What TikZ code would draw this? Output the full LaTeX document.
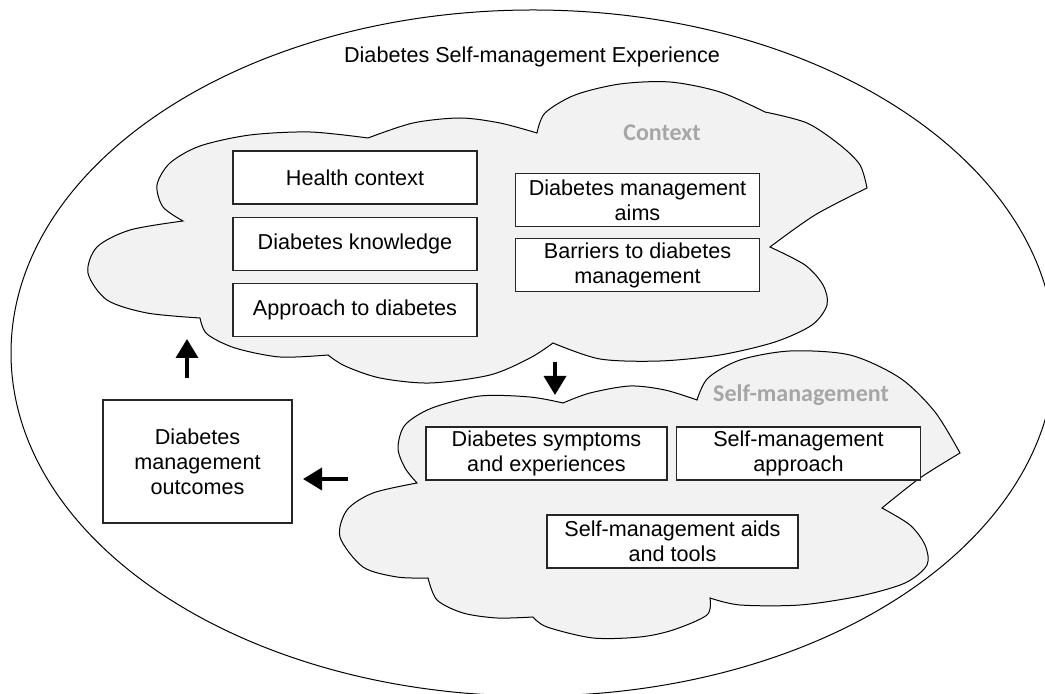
\documentclass[tikz,border=0pt]{standalone}
\usepackage{fontspec}
\setmainfont{Liberation Sans}
\newfontfamily\headfont{Carlito}
\usepackage{tikz}
\usetikzlibrary{positioning}
\usetikzlibrary{arrows.meta}
\definecolor{cloudgray}{HTML}{F2F2F2}
\definecolor{headgray}{HTML}{A6A6A6}
\tikzset{>={Triangle[width=11pt,length=9.5pt]}}

\begin{document}
\begin{tikzpicture}[x=0.5pt, y=-0.5pt,
        box/.style={rectangle, draw=black!85, line width=0.6pt, fill=white, align=center,
                    minimum width=122pt, minimum height=26.5pt, inner sep=1pt,
                    font=\fontsize{10.8}{12.6}\selectfont},
        cloudy/.style={draw=black, line width=0.5pt, fill=cloudgray},
        head/.style={text=headgray, font=\headfont\bfseries\fontsize{12}{14}\selectfont},
        fat/.style={->, line width=1.8pt}]
    \useasboundingbox (0,0) rectangle (1045,694);
    % outer experience ellipse
    \draw[line width=0.5pt] (533,353) ellipse [x radius=261pt, y radius=171.5pt];
    \node[font=\fontsize{10.8}{12.6}\selectfont] (title) at (532,57) {Diabetes Self-management Experience};

    % context cloud
    \draw[cloudy] plot[smooth] coordinates {(183,221) (163,207) (157,185) (170,163) (200,146) (250,135) (310,132) (368,138)}
        -- plot[smooth] coordinates {(368,138) (413,123) (460,118) (500,123) (537,133)}
        -- plot[smooth] coordinates {(537,133) (545,113) (575,95) (620,84) (670,82) (720,92) (765,112)}
        -- plot[smooth] coordinates {(765,112) (807,123) (840,145) (860,165) (867,188)}
        -- plot[smooth] coordinates {(867,188) (815,215) (770,247)}
        -- plot[smooth] coordinates {(770,247) (805,265) (823,285) (827,305) (812,325) (775,342) (720,355) (660,361) (600,359) (553,343)}
        -- plot[smooth] coordinates {(553,343) (530,358) (490,375) (430,383) (380,378) (345,366) (328,355)}
        -- plot[smooth] coordinates {(328,355) (280,357) (235,348) (207,334) (200,318)}
        -- plot[smooth] coordinates {(200,318) (147,313) (107,300) (88,273) (97,247) (130,230) (183,221)}
        -- cycle;
    \node[head] (ctx) at (662,133) {Context};

    % self-management cloud
    \draw[cloudy] plot[smooth] coordinates {(563,403) (590,393) (630,386) (665,390) (697,400)}
        -- plot[smooth] coordinates {(697,400) (708,378) (740,360) (790,351) (850,355) (900,378) (935,412) (960,453)}
        -- plot[smooth] coordinates {(960,453) (920,478) (882,508)}
        -- plot[smooth] coordinates {(882,508) (910,525) (925,545) (927,565) (905,583) (860,596) (800,605) (740,605) (710,598)}
        -- plot[smooth] coordinates {(710,598) (707,615) (673,630) (640,637) (593,638) (547,627) (533,617)}
        -- plot[smooth] coordinates {(533,617) (497,618) (463,613) (437,600) (428,578)}
        -- plot[smooth] coordinates {(428,578) (397,577) (363,567) (340,537) (347,510) (373,493) (417,483)}
        -- plot[smooth] coordinates {(417,483) (405,468) (398,448) (405,425) (432,408) (480,396) (530,397) (563,403)}
        -- cycle;
    \node[head] (self) at (801,395) {Self-management};

    % boxes
    \node[box] (health) at (355,177.5) {Health context};
    \node[box] (know) [below=6pt of health] {Diabetes knowledge};
    \node[box] (appr) [below=6pt of know] {Approach to diabetes};
    \node[box] (aims) at (637.5,200) {Diabetes management\\aims};
    \node[box] (barr) [below=5.5pt of aims] {Barriers to diabetes\\management};
    \node[box, minimum width=120.5pt] (symp) at (546.5,453.5) {Diabetes symptoms\\and experiences};
    \node[box] (smappr) at (798.5,453.5) {Self-management\\approach};
    \node[box, minimum width=125.5pt] (aids) at (672.5,541.5) {Self-management aids\\and tools};
    \node[box, minimum width=94.5pt, minimum height=61.5pt] (outc) at (197.5,461.5) {Diabetes\\management\\outcomes};

    % arrows
    \coordinate (upS) at (187,378);
    \coordinate (upT) at (187,339);
    \coordinate (dnS) at (555,362);
    \coordinate (dnT) at (555,395);
    \coordinate (lfS) at (348,479);
    \coordinate (lfT) at (303,479);
    \draw[fat] (upS) -- (upT);
    \draw[fat] (dnS) -- (dnT);
    \draw[fat] (lfS) -- (lfT);
\end{tikzpicture}
\end{document}
